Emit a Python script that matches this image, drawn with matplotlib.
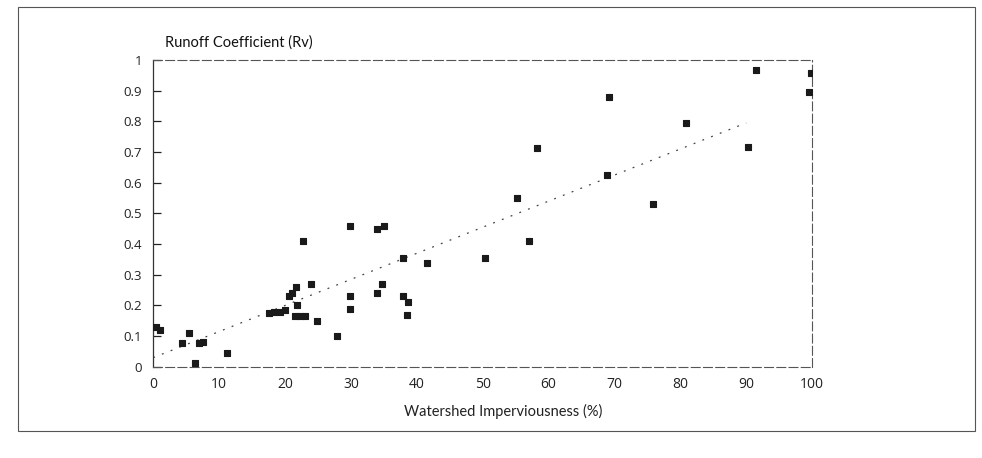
import matplotlib
matplotlib.use("Agg")
import matplotlib.pyplot as plt
from matplotlib.patches import Rectangle

plt.rcParams['font.family'] = ['Open Sans', 'DejaVu Sans']

# Data
imperv = [0.5, 1.0, 4.3, 5.5, 6.4, 7.0, 7.6, 11.2,
          17.5, 18.3, 19.2, 20.0, 20.6, 21.0, 21.7, 21.8,
          21.5, 22.3, 23.0, 24.8, 24.0, 22.7, 27.9,
          29.8, 29.8, 29.8, 34.0, 35.0, 33.9, 34.8,
          37.9, 41.5, 37.9, 38.6, 38.5,
          50.3, 57.1, 75.8, 69.2, 80.9, 90.2, 58.2,
          68.9, 55.2, 91.5, 99.8, 99.6]
rv = [0.13, 0.12, 0.078, 0.11, 0.013, 0.078, 0.080, 0.045,
      0.175, 0.178, 0.18, 0.185, 0.23, 0.24, 0.26, 0.20,
      0.165, 0.165, 0.165, 0.15, 0.27, 0.41, 0.10,
      0.23, 0.19, 0.46, 0.45, 0.46, 0.24, 0.27,
      0.355, 0.34, 0.23, 0.21, 0.17,
      0.355, 0.41, 0.53, 0.88, 0.795, 0.717, 0.713,
      0.625, 0.55, 0.967, 0.957, 0.896]

fit_x = [0, 90]
fit_y = [0.03, 0.795]

x_ticks = [0, 10, 20, 30, 40, 50, 60, 70, 80, 90, 100]
x_ticklabels = ["0", "10", "20", "30", "40", "50", "60", "70", "80", "90", "100"]
y_ticks = [0, 0.1, 0.2, 0.3, 0.4, 0.5, 0.6, 0.7, 0.8, 0.9, 1.0]
y_ticklabels = ["0", "0.1", "0.2", "0.3", "0.4", "0.5", "0.6", "0.7", "0.8", "0.9", "1"]

fig = plt.figure(figsize=(9.82, 4.58), dpi=100)
fig.patch.set_facecolor('white')

# outer border
fig.patches.append(Rectangle((0.018, 0.06), 0.975, 0.925, transform=fig.transFigure,
                             fill=False, edgecolor='#555555', linewidth=0.8))

ax = fig.add_axes([0.156, 0.199, 0.671, 0.670])
ax.scatter(imperv, rv, marker='s', s=22, color='#1a1a1a', edgecolors='#1a1a1a',
           linewidths=0.8, zorder=3)
ax.plot(fit_x, fit_y, linestyle=(0, (1.5, 6)), color='#444444', linewidth=0.9, zorder=2)

ax.set_xlim(0, 100)
ax.set_ylim(0, 1)
ax.set_xticks(x_ticks)
ax.set_xticklabels(x_ticklabels)
ax.set_yticks(y_ticks)
ax.set_yticklabels(y_ticklabels)

for side in ['top', 'right', 'bottom']:
    ax.spines[side].set_linestyle((0, (8, 3)))
    ax.spines[side].set_color('#555555')
    ax.spines[side].set_linewidth(0.8)
ax.spines['left'].set_color('#333333')
ax.spines['left'].set_linewidth(0.9)

ax.tick_params(axis='y', direction='in', length=6, width=0.9, colors='#222222',
               labelsize=9.5, pad=8)
ax.tick_params(axis='x', length=0, colors='#222222', labelsize=10, pad=7)

ax.set_xlabel("Watershed Imperviousness (%)", fontsize=10.5, color='#222222', labelpad=9,
              family=['Lato', 'DejaVu Sans'])
ax.xaxis.label.set_x(0.531)
fig.text(0.168, 0.908, "Runoff Coefficient (Rv)", fontsize=10.5, color='#111111',
         ha='left', va='center', family=['Lato', 'DejaVu Sans'])

fig.savefig("out.png", dpi=100)
